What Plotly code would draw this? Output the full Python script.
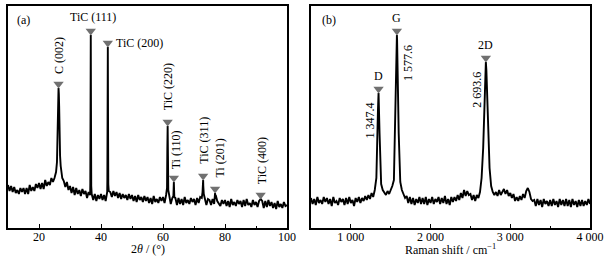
import numpy as np
import plotly.graph_objects as go

# ---------------- Data: panel (a) XRD ----------------
xrd_grid_start, xrd_grid_step = 10.0, 0.5
xrd_grid_y = [
    43, 37, 42, 36, 41, 35, 38, 34, 40, 36,
    40, 34, 40, 34, 43, 37, 41, 37, 44, 40,
    45, 39, 45, 39, 48, 42, 46, 43, 50, 46,
    50, 56, 88, 122, 62, 50, 47, 41, 46, 38,
    42, 35, 41, 33, 40, 34, 38, 32, 39, 34,
    37, 30, 36, 33, 34, 28, 34, 27, 33, 29,
    34, 28, 33, 27, 36, 37, 36, 31, 37, 32,
    36, 30, 35, 29, 34, 30, 33, 28, 34, 29,
    33, 27, 32, 26, 33, 28, 31, 26, 32, 27,
    31, 25, 30, 24, 32, 26, 29, 25, 31, 27,
    31, 25, 33, 102, 31, 24, 30, 46, 30, 23,
    30, 24, 29, 23, 31, 25, 28, 24, 30, 26,
    29, 23, 30, 25, 31, 30, 42, 30, 23, 29,
    28, 23, 29, 24, 33, 27, 25, 22, 28, 24,
    28, 22, 27, 21, 29, 23, 26, 22, 28, 24,
    27, 21, 28, 22, 29, 23, 25, 21, 28, 23,
    26, 21, 27, 29, 27, 20, 27, 21, 28, 22,
    26, 20, 25, 19, 27, 21, 24, 20, 26, 22,
    23,
]
# extra detail points on the peaks
xrd_peak_x = [25.8, 26.1, 26.2, 26.3, 26.4, 26.6, 26.8,
              36.55, 36.62, 36.7, 36.78, 36.85,
              42.05, 42.12, 42.2, 42.28, 42.35,
              61.3, 61.4, 61.6, 61.7,
              63.35, 63.65,
              72.75, 72.85, 72.95, 73.15,
              76.7, 76.8, 76.9]
xrd_peak_y = [66, 112, 132, 140, 134, 96, 72,
              45, 110, 193, 105, 42,
              48, 105, 181, 100, 44,
              40, 80, 72, 38,
              32, 31,
              36, 46, 48, 34,
              30, 35, 29]

xrd_labels = ["C (002)", "TiC (111)", "TiC (200)", "TiC (220)", "Ti (110)",
              "TiC (311)", "Ti (201)", "TiC (400)"]
xrd_label_pos = [26.3, 36.7, 42.2, 61.5, 63.5, 72.95, 76.8, 91.5]
xrd_label_int = [140, 193, 181, 102, 46, 48, 35, 29]

# ---------------- Data: panel (b) Raman ----------------
ram_grid_start, ram_grid_step = 500.0, 20.0
ram_grid_y = [
    30, 24, 29, 23, 31, 25, 28, 24, 31, 26,
    30, 24, 29, 22, 31, 25, 27, 23, 30, 26,
    29, 23, 30, 24, 31, 25, 28, 22, 30, 26,
    31, 25, 30, 27, 32, 28, 33, 29, 35, 31,
    38, 50, 118, 95, 44, 38, 36, 33, 37, 34,
    38, 42, 48, 110, 188, 95, 46, 38, 34, 30,
    32, 25, 31, 24, 30, 23, 29, 25, 31, 24,
    30, 24, 31, 23, 29, 25, 31, 24, 29, 26,
    31, 24, 30, 25, 32, 24, 29, 23, 31, 26,
    31, 27, 33, 28, 35, 30, 38, 32, 37, 33,
    34, 28, 33, 27, 33, 30, 36, 50, 80, 140,
    158, 105, 60, 42, 36, 33, 36, 32, 38, 33,
    37, 39, 34, 38, 32, 35, 30, 34, 27, 31,
    27, 32, 28, 34, 30, 37, 40, 36, 29, 27,
    28, 22, 29, 23, 28, 21, 29, 24, 27, 22,
    28, 22, 29, 23, 27, 21, 29, 23, 28, 22,
    29, 22, 28, 21, 29, 23, 27, 21, 28, 22,
    28, 22, 27, 23, 29, 24,
]
ram_peak_x = [1347.4, 1577.6, 2693.6]
ram_peak_y = [135, 193, 166]
ram_labels = ["D", "G", "2D"]
ram_values = ["1 347.4", "1 577.6", "2 693.6"]

# ---------------- Build curves ----------------
def merge(start, step, gy, px, py):
    gx = start + step * np.arange(len(gy))
    x = np.concatenate([gx, np.array(px, float)])
    y = np.concatenate([np.array(gy, float), np.array(py, float)])
    o = np.argsort(x, kind="stable")
    return x[o], y[o]

xa, ya = merge(xrd_grid_start, xrd_grid_step, xrd_grid_y, xrd_peak_x, xrd_peak_y)
xb, yb = merge(ram_grid_start, ram_grid_step, ram_grid_y, ram_peak_x, ram_peak_y)

FONT = "Liberation Serif, Times New Roman, serif"
MK = "#707070"
W, H = 616, 261

fig = go.Figure()
fig.add_trace(go.Scatter(x=xa, y=ya, mode="lines", line=dict(color="black", width=1.9),
                         xaxis="x", yaxis="y", showlegend=False, hoverinfo="skip"))
fig.add_trace(go.Scatter(x=xb, y=yb, mode="lines", line=dict(color="black", width=1.9),
                         xaxis="x2", yaxis="y2", showlegend=False, hoverinfo="skip"))

MOFF = 4  # marker above peak top
fig.add_trace(go.Scatter(x=xrd_label_pos, y=[v + MOFF for v in xrd_label_int], mode="markers",
                         marker=dict(symbol="triangle-down", size=9, color=MK),
                         xaxis="x", yaxis="y", showlegend=False, hoverinfo="skip"))
fig.add_trace(go.Scatter(x=ram_peak_x, y=[v + MOFF for v in ram_peak_y], mode="markers",
                         marker=dict(symbol="triangle-down", size=9, color=MK),
                         xaxis="x2", yaxis="y2", showlegend=False, hoverinfo="skip"))

ann = []
styles = {
    "C (002)": dict(textangle=-90, xanchor="center", yanchor="bottom", xshift=0, yshift=8),
    "TiC (111)": dict(textangle=0, xanchor="center", yanchor="bottom", xshift=2, yshift=5),
    "TiC (200)": dict(textangle=0, xanchor="left", yanchor="middle", xshift=6, yshift=0),
    "TiC (220)": dict(textangle=-90, xanchor="center", yanchor="bottom", xshift=0, yshift=10),
    "Ti (110)": dict(textangle=-90, xanchor="center", yanchor="bottom", xshift=2, yshift=7),
    "TiC (311)": dict(textangle=-90, xanchor="center", yanchor="bottom", xshift=0, yshift=10),
    "Ti (201)": dict(textangle=-90, xanchor="center", yanchor="bottom", xshift=4, yshift=9),
    "TiC (400)": dict(textangle=-90, xanchor="center", yanchor="bottom", xshift=1, yshift=9),
}
for name, xp, v in zip(xrd_labels, xrd_label_pos, xrd_label_int):
    st = styles[name]
    ann.append(dict(x=xp, y=v + MOFF, xref="x", yref="y", text=name, showarrow=False,
                    font=dict(family=FONT, size=12, color="black"), **st))

val_shift = [-9, 11, -9]
for name, val, xp, v, xs in zip(ram_labels, ram_values, ram_peak_x, ram_peak_y, val_shift):
    ann.append(dict(x=xp, y=v + MOFF, xref="x2", yref="y2", text=name, showarrow=False,
                    xanchor="center", yanchor="bottom", yshift=4,
                    font=dict(family=FONT, size=12, color="black")))
    ann.append(dict(x=xp, y=v, xref="x2", yref="y2", text=val, showarrow=False, textangle=-90,
                    xanchor="center", yanchor="top", xshift=xs, yshift=-8,
                    font=dict(family=FONT, size=12, color="black")))

ann.append(dict(x=0.025, y=0.937, xref="x domain", yref="y domain", text="(a)", showarrow=False,
                xanchor="left", yanchor="middle", font=dict(family=FONT, size=12, color="black")))
ann.append(dict(x=0.032, y=0.937, xref="x2 domain", yref="y2 domain", text="(b)", showarrow=False,
                xanchor="left", yanchor="middle", font=dict(family=FONT, size=12, color="black")))
ann.append(dict(x=0.5, y=0, xref="x domain", yref="paper", text="2<i>θ</i> / (°)", showarrow=False,
                xanchor="center", yanchor="middle", yshift=-21, font=dict(family=FONT, size=12, color="black")))
ann.append(dict(x=0.5, y=0, xref="x2 domain", yref="paper", text="Raman shift / cm<sup>−1</sup>", showarrow=False,
                xanchor="center", yanchor="middle", yshift=-21, font=dict(family=FONT, size=12, color="black")))

axcommon = dict(showline=True, linecolor="black", linewidth=1.5, mirror=True, showgrid=False,
                zeroline=False, ticks="inside", ticklen=4, tickwidth=1, tickcolor="black",
                ticklabelstandoff=-3, automargin=False,
                tickfont=dict(family=FONT, size=12, color="black"))
ycommon = dict(showline=True, linecolor="black", linewidth=1.5, mirror=True, showgrid=False,
               zeroline=False, showticklabels=False, ticks="", range=[0, 222], fixedrange=True,
               automargin=False)

fig.update_layout(
    width=W, height=H, autosize=False, margin=dict(l=0, r=0, t=6, b=33, autoexpand=False),
    paper_bgcolor="white", plot_bgcolor="white",
    xaxis=dict(domain=[8 / W, 287 / W], range=[10, 100], tick0=0, dtick=20,
               minor=dict(dtick=10, ticklen=2, ticks="inside", tickcolor="black"), **axcommon),
    yaxis=dict(domain=[0, 1], **ycommon),
    xaxis2=dict(domain=[311 / W, 590 / W], range=[500, 4000], anchor="y2",
                tickvals=[1000, 2000, 3000, 4000], ticktext=["1 000", "2 000", "3 000", "4 000"],
                minor=dict(tickvals=[1500, 2500, 3500], ticklen=2, ticks="inside", tickcolor="black"),
                **axcommon),
    yaxis2=dict(domain=[0, 1], anchor="x2", **ycommon),
    annotations=ann,
)

fig.write_html("out.html", config={"displayModeBar": False, "responsive": False},
               post_script="document.body.style.margin='0';document.body.style.padding='0';"
                           "document.body.style.overflow='hidden';")
